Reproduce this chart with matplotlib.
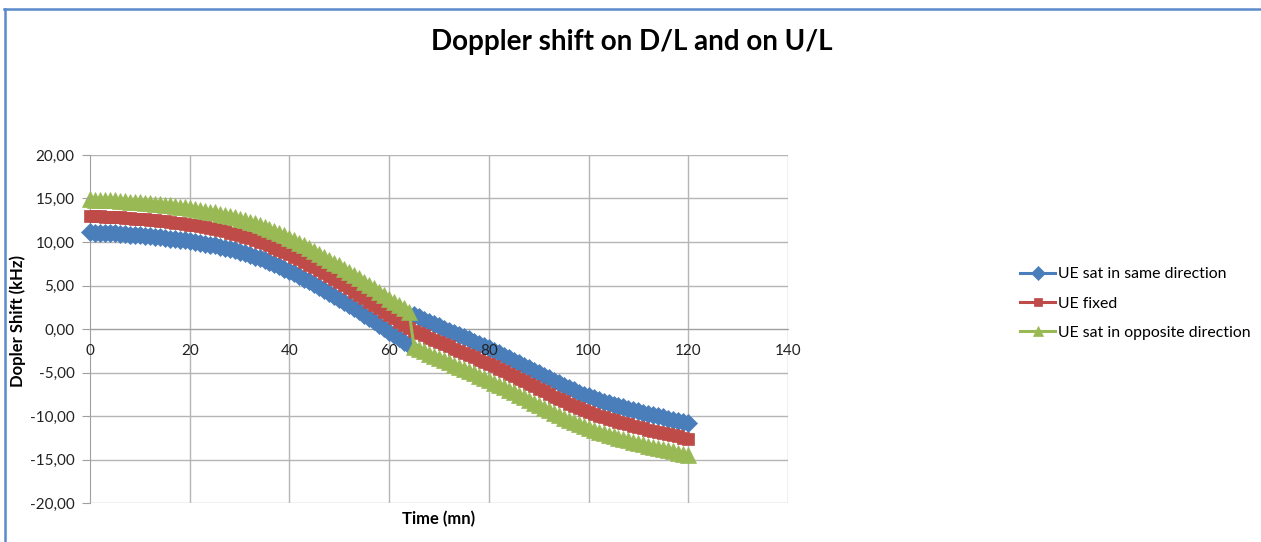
import numpy as np
import matplotlib
matplotlib.use("Agg")
import matplotlib.pyplot as plt
from matplotlib.lines import Line2D
from matplotlib.ticker import FuncFormatter

plt.rcParams['font.family'] = ['Lato', 'DejaVu Sans']

# -----------------------------------------
# Data (kHz, one point per minute)
# -----------------------------------------
time_mn = np.arange(0, 121)

ue_same_dir = [
    11.10, 11.08, 11.06, 11.03, 11.01, 10.98, 10.94, 10.89, 10.85, 10.80,
    10.75, 10.70, 10.64, 10.59, 10.53, 10.48, 10.40, 10.33, 10.25, 10.18,
    10.10, 10.00, 9.90, 9.80, 9.70, 9.60, 9.46, 9.32, 9.18, 9.04,
    8.90, 8.71, 8.52, 8.33, 8.14, 7.95, 7.70, 7.45, 7.20, 6.95,
    6.70, 6.40, 6.10, 5.80, 5.50, 5.20, 4.86, 4.52, 4.18, 3.84,
    3.50, 3.13, 2.76, 2.39, 2.02, 1.65, 1.26, 0.87, 0.48, 0.09,
    -0.30, -0.68, -1.06, -1.44, -1.82, 1.60, 1.34, 1.08, 0.82, 0.56,
    0.30, 0.05, -0.20, -0.45, -0.70, -0.95, -1.20, -1.45, -1.71, -1.97,
    -2.23, -2.50, -2.78, -3.06, -3.35, -3.64, -3.93, -4.22, -4.51, -4.80,
    -5.09, -5.38, -5.67, -5.96, -6.25, -6.53, -6.80, -7.06, -7.30, -7.53,
    -7.75, -7.96, -8.16, -8.35, -8.53, -8.70, -8.86, -9.01, -9.16, -9.32,
    -9.48, -9.62, -9.76, -9.90, -10.03, -10.16, -10.29, -10.42, -10.55, -10.68,
    -10.80,
]

ue_fixed = [
    13.00, 12.98, 12.96, 12.93, 12.91, 12.88, 12.84, 12.79, 12.75, 12.70,
    12.65, 12.60, 12.54, 12.49, 12.43, 12.38, 12.30, 12.23, 12.15, 12.08,
    12.00, 11.90, 11.80, 11.70, 11.60, 11.50, 11.36, 11.22, 11.08, 10.94,
    10.80, 10.61, 10.42, 10.23, 10.04, 9.85, 9.60, 9.35, 9.10, 8.85,
    8.60, 8.30, 8.00, 7.70, 7.40, 7.10, 6.76, 6.42, 6.08, 5.74,
    5.40, 5.03, 4.66, 4.29, 3.92, 3.55, 3.16, 2.77, 2.38, 1.99,
    1.60, 1.22, 0.84, 0.46, 0.08, -0.20, -0.46, -0.72, -0.98, -1.24,
    -1.50, -1.75, -2.00, -2.25, -2.50, -2.75, -3.00, -3.25, -3.51, -3.77,
    -4.03, -4.30, -4.58, -4.86, -5.15, -5.44, -5.73, -6.02, -6.31, -6.60,
    -6.89, -7.18, -7.47, -7.76, -8.05, -8.33, -8.60, -8.86, -9.10, -9.33,
    -9.55, -9.76, -9.96, -10.15, -10.33, -10.50, -10.66, -10.81, -10.96, -11.12,
    -11.28, -11.42, -11.56, -11.70, -11.83, -11.96, -12.09, -12.22, -12.35, -12.48,
    -12.60,
]

ue_opposite_dir = [
    14.90, 14.88, 14.86, 14.83, 14.81, 14.78, 14.74, 14.69, 14.65, 14.60,
    14.55, 14.50, 14.44, 14.39, 14.33, 14.28, 14.20, 14.13, 14.05, 13.98,
    13.90, 13.80, 13.70, 13.60, 13.50, 13.40, 13.26, 13.12, 12.98, 12.84,
    12.70, 12.51, 12.32, 12.13, 11.94, 11.75, 11.50, 11.25, 11.00, 10.75,
    10.50, 10.20, 9.90, 9.60, 9.30, 9.00, 8.66, 8.32, 7.98, 7.64,
    7.30, 6.93, 6.56, 6.19, 5.82, 5.45, 5.06, 4.67, 4.28, 3.89,
    3.50, 3.12, 2.74, 2.36, 1.98, -2.05, -2.31, -2.57, -2.83, -3.09,
    -3.35, -3.60, -3.85, -4.10, -4.35, -4.60, -4.85, -5.10, -5.36, -5.62,
    -5.88, -6.15, -6.43, -6.71, -7.00, -7.29, -7.58, -7.87, -8.16, -8.45,
    -8.74, -9.03, -9.32, -9.61, -9.90, -10.18, -10.45, -10.71, -10.95, -11.18,
    -11.40, -11.61, -11.81, -12.00, -12.18, -12.35, -12.51, -12.66, -12.81, -12.97,
    -13.13, -13.27, -13.41, -13.55, -13.68, -13.81, -13.94, -14.07, -14.20, -14.33,
    -14.45,
]

series_labels = ["UE sat in same direction", "UE fixed", "UE sat in opposite direction"]
series_colors = ["#4A7EBB", "#BE4B48", "#98B954"]
series_markers = ["D", "s", "^"]
series_msize = [9.5, 8.5, 11]

# -----------------------------------------
# Plot
# -----------------------------------------
fig = plt.figure(figsize=(12.61, 5.42), dpi=100)
ax = fig.add_axes([90 / 1261, 39 / 542, 698 / 1261, 348 / 542])

ax.set_xlim(0, 140)
ax.set_ylim(-20, 20)
ax.set_xticks(range(0, 141, 20))
ax.set_yticks(range(-20, 21, 5))
ax.yaxis.set_major_formatter(FuncFormatter(lambda v, p: f"{v:.2f}".replace(".", ",")))

# gridlines drawn underneath, so tick labels can sit on top of the curves
for yv in ax.get_yticks():
    ax.axhline(yv, color="#B5B5B5", lw=1, zorder=0)
for xv in ax.get_xticks()[1:]:
    ax.axvline(xv, color="#B5B5B5", lw=1, zorder=0)

for vals, lab, col, mk, ms in zip([ue_same_dir, ue_fixed, ue_opposite_dir],
                                  series_labels, series_colors, series_markers, series_msize):
    ax.plot(time_mn, vals, color=col, lw=2.2, marker=mk, markersize=ms,
            markerfacecolor=col, markeredgecolor=col, markeredgewidth=0.5,
            label=lab, clip_on=False, zorder=2)

ax.set_axisbelow(False)
for s in ["top", "right"]:
    ax.spines[s].set_visible(False)
ax.spines["bottom"].set_position(("data", 0))
ax.spines["bottom"].set_color("#A0A0A0")
ax.spines["left"].set_color("#A0A0A0")
ax.spines["bottom"].set_zorder(0.5)
ax.spines["left"].set_zorder(0.5)
ax.tick_params(axis="x", length=0, pad=11, labelsize=11, colors="#222222")
ax.tick_params(axis="y", length=6, pad=5, labelsize=11, color="#A0A0A0", labelcolor="#222222")

ax.text(0.5, -0.045, "Time (mn)", transform=ax.transAxes, ha="center", va="center",
        fontsize=12, fontweight="bold")
fig.text(18 / 1261, 1 - 321 / 542, "Dopler Shift (kHz)", rotation=90, ha="center", va="center",
         fontsize=12, fontweight="bold")
fig.text(632 / 1261, 1 - 42 / 542, "Doppler shift on D/L and on U/L", ha="center", va="center",
         fontsize=20, fontweight="bold")

ax.legend(loc="upper left", bbox_to_anchor=(1014 / 1261, 1 - 261 / 542),
          bbox_transform=fig.transFigure, frameon=False, fontsize=11.4,
          handlelength=2.2, handletextpad=0.2, labelspacing=0.95, borderaxespad=0,
          markerscale=0.7)

# blue chart-area border (top and left)
fig.add_artist(Line2D([4 / 1261, 1], [1 - 8.5 / 542, 1 - 8.5 / 542], color="#5B8ACB", lw=1.8))
fig.add_artist(Line2D([4.5 / 1261, 4.5 / 1261], [0, 1 - 8.5 / 542], color="#5B8ACB", lw=1.8))

fig.savefig("out.png", dpi=100)
